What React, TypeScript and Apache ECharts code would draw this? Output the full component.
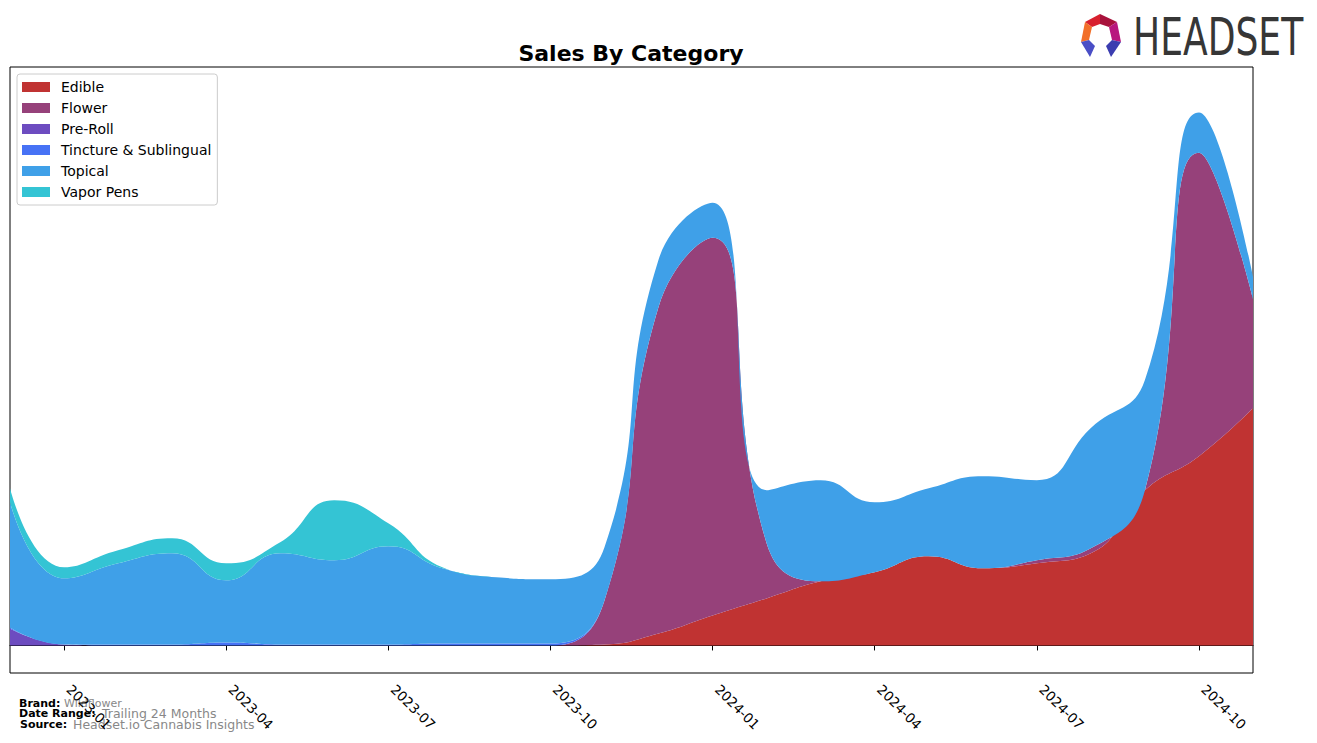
import React, { useEffect, useRef } from "react";
import * as echarts from "echarts";

const months = [
  "2022-12", "2023-01", "2023-02", "2023-03", "2023-04", "2023-05", "2023-06", "2023-07",
  "2023-08", "2023-09", "2023-10", "2023-11", "2023-12", "2024-01", "2024-02", "2024-03",
  "2024-04", "2024-05", "2024-06", "2024-07", "2024-08", "2024-09", "2024-10", "2024-11",
];
const tickLabels = ["2023-01", "2023-04", "2023-07", "2023-10", "2024-01", "2024-04", "2024-07", "2024-10"];

const categories = ["Edible", "Flower", "Pre-Roll", "Tincture & Sublingual", "Topical", "Vapor Pens"];
const colors = ["#c03332", "#96417a", "#6d4cc0", "#4772f5", "#3fa0e8", "#34c4d4"];

const edible = [0, 0, 0, 0, 0, 0, 0, 0, 0, 0, 0, 1, 12, 30, 47, 64, 73, 89, 77, 82, 92, 155, 189, 237];
const flower = [0, 0, 0, 0, 0, 0, 0, 0, 0, 0, 0, 44, 326, 377, 55, 0, 0, 0, 0, 3, 5, 0, 303, 109];
const preRoll = [17, 1, 0, 0, 0, 0, 0, 0, 0, 0, 0, 0, 0, 0, 0, 0, 0, 0, 0, 0, 0, 0, 0, 0];
const tincture = [1, 0, 1, 1, 3, 1, 1, 1, 2, 2, 2, 0, 0, 0, 0, 0, 0, 0, 0, 0, 0, 0, 0, 0];
const topical = [125, 66, 81, 91, 62, 91, 84, 98, 75, 66, 64, 53, 47, 35, 53, 101, 70, 68, 92, 80, 120, 110, 40, 22];
const vaporPens = [14, 11, 13, 15, 17, 11, 60, 23, 1, 0, 0, 0, 0, 0, 0, 0, 0, 0, 0, 0, 0, 0, 0, 0];

const seriesValues = [edible, flower, preRoll, tincture, topical, vaporPens];

const FONT = "DejaVu Sans";

export default function App() {
  const ref = useRef<HTMLDivElement>(null);
  useEffect(() => {
    if (!ref.current) return;
    const chart = echarts.init(ref.current, null, { renderer: "svg" });
    const showTick = (_i: number, v: string) => tickLabels.includes(v);
    const option: any = {
      animation: false,
      backgroundColor: "#fff",
      grid: {
        left: 10, top: 67, width: 1243, height: 606,
        show: true, borderColor: "#000", borderWidth: 1, backgroundColor: "transparent",
      },
      xAxis: {
        type: "category",
        data: months,
        boundaryGap: false,
        splitLine: { show: false },
        axisLine: { show: true, lineStyle: { color: "#000", width: 1 } },
        axisTick: { show: true, length: 5, lineStyle: { color: "#000" }, interval: showTick },
        axisLabel: {
          interval: showTick,
          rotate: -45, margin: 9, padding: [0, 0, 0, 7],
          color: "#000", fontSize: 13.5, fontFamily: FONT,
        },
      },
      yAxis: {
        type: "value", min: -27.5, max: 577.5, show: false,
        splitLine: { show: false },
      },
      legend: {
        orient: "vertical", left: 17, top: 74,
        icon: "rect", itemWidth: 28, itemHeight: 10, itemGap: 7,
        padding: [6, 6, 6, 5],
        borderColor: "#cccccc", borderWidth: 1, borderRadius: 3, backgroundColor: "#fff",
        textStyle: { fontSize: 14, fontFamily: FONT, color: "#000", padding: [0, 0, 0, 6] },
        data: categories,
      },
      series: categories.map((name, i) => ({
        name,
        type: "line",
        stack: "total",
        smooth: 0.5,
        symbol: "none",
        color: colors[i],
        lineStyle: { width: 0 },
        itemStyle: { color: colors[i] },
        areaStyle: { color: colors[i], opacity: 1 },
        data: seriesValues[i],
      })),
      graphic: [
        {
          type: "text", x: 631, y: 53,
          style: { text: "Sales By Category", font: `bold 22px '${FONT}'`, fill: "#000", textAlign: "center", textVerticalAlign: "middle" },
        },
        { type: "text", x: 19, y: 703, style: { text: "Brand:", font: `bold 11px '${FONT}'`, fill: "#000", textVerticalAlign: "middle" } },
        { type: "text", x: 64, y: 703, style: { text: "Wildflower", font: `11px '${FONT}'`, fill: "#888", textVerticalAlign: "middle" } },
        { type: "text", x: 19, y: 713, style: { text: "Date Range:", font: `bold 11px '${FONT}'`, fill: "#000", textVerticalAlign: "middle" } },
        { type: "text", x: 102, y: 713, style: { text: "Trailing 24 Months", font: `12.5px '${FONT}'`, fill: "#888", textVerticalAlign: "middle" } },
        { type: "text", x: 20, y: 724, style: { text: "Source:", font: `bold 11px '${FONT}'`, fill: "#000", textVerticalAlign: "middle" } },
        { type: "text", x: 73, y: 724, style: { text: "Headset.io Cannabis Insights", font: `12.5px '${FONT}'`, fill: "#888", textVerticalAlign: "middle" } },
        {
          type: "text", x: 1133, y: 37, scaleX: 0.708,
          style: { text: "HEADSET", font: `51px '${FONT}'`, fill: "#363636", textVerticalAlign: "middle" },
        },
        { type: "polygon", shape: { points: [[1100, 14], [1085, 22], [1092, 27], [1100, 24]] }, style: { fill: "#d8202e" } },
        { type: "polygon", shape: { points: [[1100, 14], [1117, 22], [1109, 27], [1100, 24]] }, style: { fill: "#a8123c" } },
        { type: "polygon", shape: { points: [[1085, 22], [1081, 42], [1089, 40], [1092, 27]] }, style: { fill: "#f2702a" } },
        { type: "polygon", shape: { points: [[1117, 22], [1121, 42], [1112, 40], [1109, 27]] }, style: { fill: "#b8187e" } },
        { type: "polygon", shape: { points: [[1081, 42], [1089, 40], [1095, 46], [1090, 57]] }, style: { fill: "#4a4ec6" } },
        { type: "polygon", shape: { points: [[1121, 42], [1112, 40], [1106, 46], [1111, 57]] }, style: { fill: "#3b3db0" } },
      ],
    };
    chart.setOption(option);
    return () => chart.dispose();
  }, []);
  return <div ref={ref} style={{ position: "absolute", left: 0, top: 0, width: 1317, height: 743 }} />;
}
